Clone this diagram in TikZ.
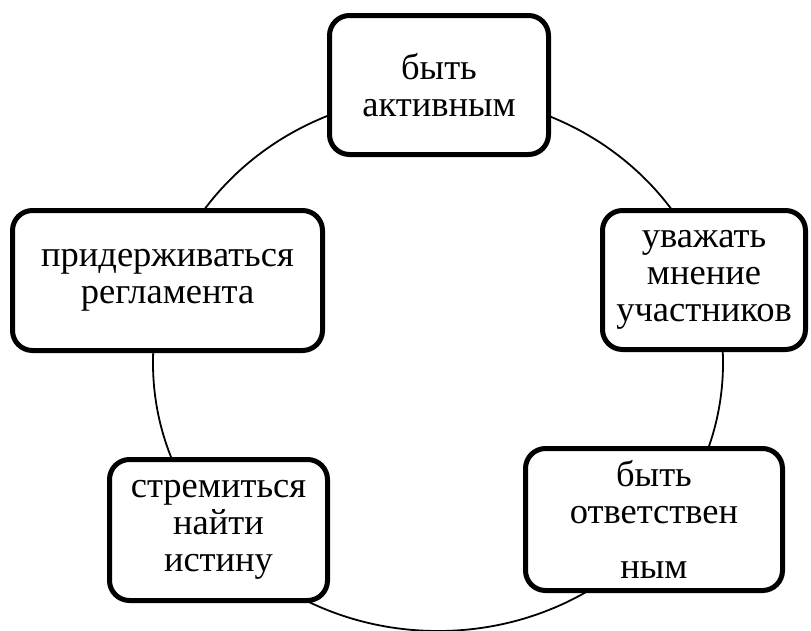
\documentclass[tikz,border=0pt]{standalone}
\usepackage{fontspec}
\setmainfont{Liberation Serif}
\tikzset{
  box/.style={draw, fill=white, line width=5pt, rounded corners=20pt,
    align=center, inner sep=0pt, font=\fontsize{36.5}{37}\selectfont},
  ring/.style={line width=1.8pt}
}
\begin{document}
\begin{tikzpicture}[x=1pt,y=-1pt]
\useasboundingbox (0,0) rectangle (811,630);
\draw[ring] (438,363) ellipse [x radius=285, y radius=268];
\node[box, minimum width=219pt, minimum height=139pt] (a) at (439,85) {быть\\активным};
\node[box, minimum width=203pt, minimum height=139pt] (b) at (704,280) {уважать\\мнение\\участников};
\node[box, minimum width=257pt, minimum height=142pt] (c) at (654,519.5) {быть\\ответствен\\[18pt]ным};
\node[box, minimum width=218pt, minimum height=141pt] (d) at (218.5,530) {стремиться\\найти\\истину};
\node[box, minimum width=310pt, minimum height=140pt] (e) at (167.5,280.5) {придерживаться\\регламента};
\end{tikzpicture}
\end{document}
